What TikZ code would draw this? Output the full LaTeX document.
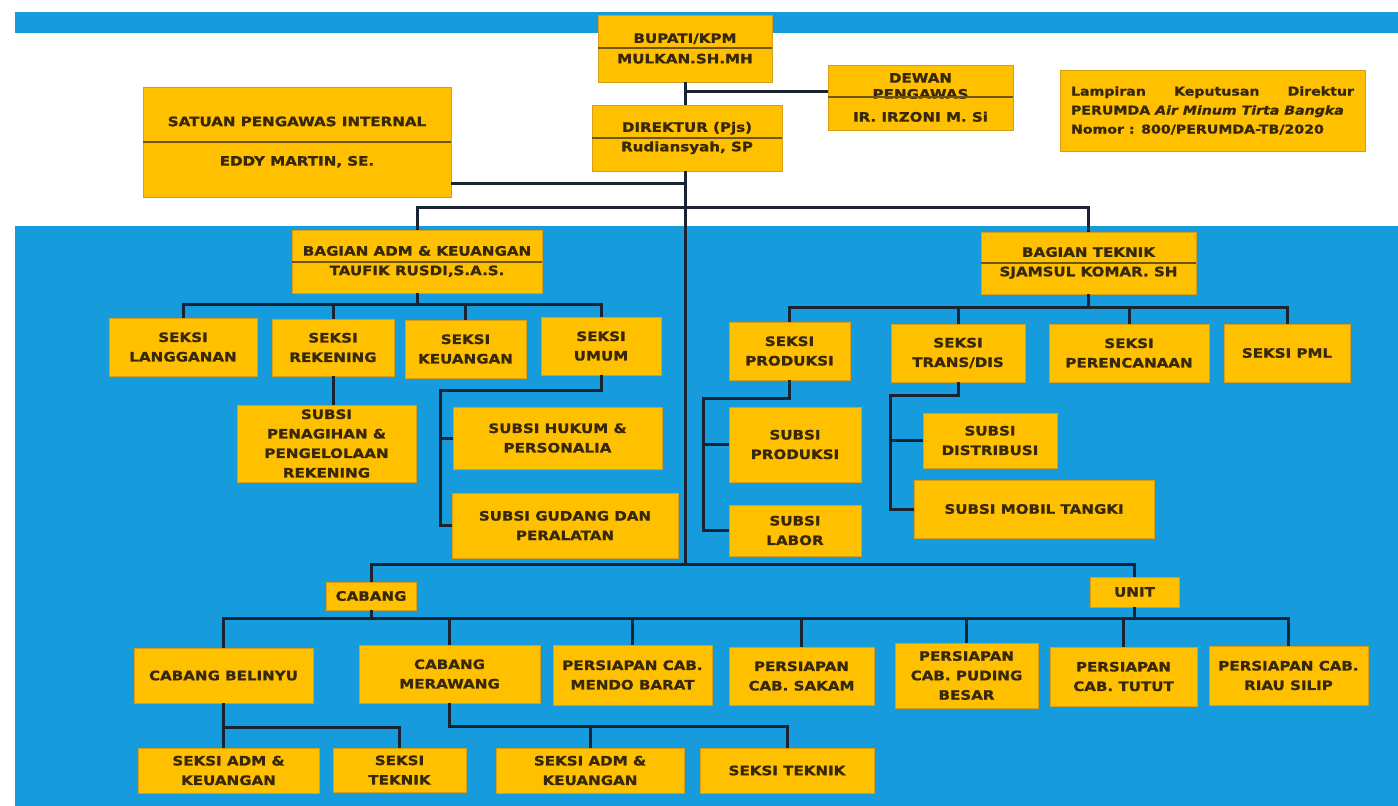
\documentclass[tikz,border=0pt]{standalone}
\usepackage{fontspec}
\newfontfamily\boxfont{DejaVu Sans}[FakeStretch=1.16, FakeBold=1.2]
\definecolor{bgblue}{RGB}{22,155,220}
\definecolor{boxyel}{RGB}{255,192,0}
\definecolor{boxedge}{RGB}{215,160,20}
\definecolor{txtc}{RGB}{55,40,10}
\definecolor{linec}{RGB}{25,35,50}
\definecolor{divc}{RGB}{110,85,20}
\newcommand\bx[6]{\node[box,minimum width={#4pt-#2pt},minimum height={#5pt-#3pt}] (#1) at ({(#2+#4)/2},{(#3+#5)/2}) {#6};}
\begin{document}
\begin{tikzpicture}[x=1pt,y=-1pt,
  box/.style={fill=boxyel, draw=boxedge, line width=0.8pt, inner sep=1pt, align=center, text=txtc,
    font=\boxfont\bfseries\fontsize{13}{19.5}\selectfont},
  wire/.style={draw=linec, line width=3pt},
  divline/.style={draw=divc, line width=1.2pt}]
\useasboundingbox (0,0) rectangle (1398,806);
\fill[white] (0,0) rectangle (1398,806);
\fill[bgblue] (15,12) rectangle (1398,33);
\fill[bgblue] (15,226) rectangle (1398,806);

% top level
\bx{bup}{598}{15}{772}{82}{BUPATI/KPM\\[1pt]MULKAN.SH.MH}
\bx{dew}{828}{65}{1013}{130}{DEWAN\\[-3.5pt]PENGAWAS\\[3.5pt]IR. IRZONI M. Si}
\bx{dir}{592}{105}{782}{171}{DIREKTUR (Pjs)\\Rudiansyah, SP}
\bx{spi}{143}{87}{451}{197}{SATUAN PENGAWAS INTERNAL\\[20pt]EDDY MARTIN, SE.}
\bx{lamp}{1060}{70}{1365}{151}{\parbox{283pt}{\fontsize{12.2}{19}\selectfont Lampiran\hfill Keputusan\hfill Direktur\\PERUMDA \textit{Air Minum Tirta Bangka}\\Nomor : 800/PERUMDA-TB/2020}}

% bagian
\bx{badm}{292}{230}{542}{293}{BAGIAN ADM \& KEUANGAN\\TAUFIK RUSDI,S.A.S.}
\bx{btek}{981}{232}{1196}{294}{BAGIAN TEKNIK\\SJAMSUL KOMAR. SH}

% seksi adm
\bx{lang}{109}{318}{257}{376}{SEKSI\\LANGGANAN}
\bx{rek}{272}{319}{394}{376}{SEKSI\\REKENING}
\bx{keu}{405}{320}{526}{378}{SEKSI\\KEUANGAN}
\bx{umum}{541}{317}{661}{375}{SEKSI\\UMUM}
\bx{pen}{237}{405}{416}{482}{SUBSI\\PENAGIHAN \&\\PENGELOLAAN\\REKENING}
\bx{hukum}{453}{407}{662}{469}{SUBSI HUKUM \&\\PERSONALIA}
\bx{gudang}{452}{493}{678}{558}{SUBSI GUDANG DAN\\PERALATAN}

% seksi teknik
\bx{sprod}{729}{322}{850}{380}{SEKSI\\PRODUKSI}
\bx{strans}{891}{324}{1025}{382}{SEKSI\\TRANS/DIS}
\bx{speren}{1049}{324}{1209}{382}{SEKSI\\PERENCANAAN}
\bx{spml}{1224}{324}{1350}{382}{SEKSI PML}
\bx{subprod}{729}{407}{861}{482}{SUBSI\\PRODUKSI}
\bx{labor}{729}{505}{861}{556}{SUBSI\\LABOR}
\bx{distrib}{923}{413}{1057}{468}{SUBSI\\DISTRIBUSI}
\bx{mobil}{914}{480}{1154}{538}{SUBSI MOBIL TANGKI}

% cabang / unit
\bx{cab}{326}{582}{416}{610}{CABANG}
\bx{unit}{1090}{577}{1179}{607}{UNIT}
\bx{belinyu}{134}{648}{313}{703}{CABANG BELINYU}
\bx{merawang}{359}{645}{540}{703}{CABANG\\MERAWANG}
\bx{mendo}{553}{645}{712}{705}{PERSIAPAN CAB.\\MENDO BARAT}
\bx{sakam}{729}{647}{874}{705}{PERSIAPAN\\CAB. SAKAM}
\bx{puding}{895}{643}{1038}{708}{PERSIAPAN\\CAB. PUDING\\BESAR}
\bx{tutut}{1050}{647}{1197}{706}{PERSIAPAN\\CAB. TUTUT}
\bx{riau}{1209}{646}{1368}{705}{PERSIAPAN CAB.\\RIAU SILIP}
\bx{adm1}{138}{748}{319}{793}{SEKSI ADM \&\\KEUANGAN}
\bx{tek1}{333}{748}{466}{792}{SEKSI\\TEKNIK}
\bx{adm2}{496}{748}{684}{793}{SEKSI ADM \&\\KEUANGAN}
\bx{tek2}{700}{748}{874}{793}{SEKSI TEKNIK}

% dividers
\draw[divline] (bup.west |- 0,48) -- (bup.east |- 0,48);
\draw[divline] (dew.west |- 0,97) -- (dew.east |- 0,97);
\draw[divline] (dir.west |- 0,138) -- (dir.east |- 0,138);
\draw[divline] (spi.west |- 0,142) -- (spi.east |- 0,142);
\draw[divline] (badm.west |- 0,262) -- (badm.east |- 0,262);
\draw[divline] (btek.west |- 0,263) -- (btek.east |- 0,263);

% coordinates for bars
\coordinate (cbar) at (685,564);
\coordinate (topbar) at (685,207);
\coordinate (abar) at (0,304);
\coordinate (tbar) at (0,307);
\coordinate (umj) at (440,390);
\coordinate (prj) at (703,398);
\coordinate (trj) at (890,395);
\coordinate (cbar2) at (0,618);
\coordinate (bbar) at (0,727);
\coordinate (mbar) at (0,726);

% spine
\draw[wire] (bup.south) -- (bup.south |- dir.north);
\draw[wire] (bup.south |- dir.south) -- (bup.south |- cbar);
\draw[wire] ([yshift=6pt]dew.west) -- ([yshift=6pt]dew.west -| bup.south);
\draw[wire] ([yshift=14pt]spi.south east) -- ([yshift=14pt]spi.south east -| bup.south);
\draw[wire] (badm.north) |- (topbar) -| (btek.north);

% adm
\foreach \c in {lang,rek,keu,umum} \draw[wire] (badm.south) -- (badm.south |- abar) -| (\c.north);
\draw[wire] (rek.south) -- (rek.south |- pen.north);
\draw[wire] (umum.south) |- (umj) |- (hukum.west);
\draw[wire] (umj) |- (gudang.west);

% teknik
\foreach \c in {sprod,strans,speren,spml} \draw[wire] (btek.south) -- (btek.south |- tbar) -| (\c.north);
\draw[wire] (sprod.south) |- (prj) |- (subprod.west);
\draw[wire] (prj) |- (labor.west);
\draw[wire] (strans.south) |- (trj) |- (distrib.west);
\draw[wire] (trj) |- (mobil.west);

% cabang / unit
\draw[wire] (cab.north) |- (cbar) -| (unit.north);
\foreach \c in {belinyu,merawang,mendo,sakam,puding,tutut,riau} \draw[wire] (cab.south) -- (cab.south |- cbar2) -| (\c.north);
\draw[wire] (unit.south) -- (unit.south |- cbar2);
\draw[wire] (belinyu.south) -- (belinyu.south |- bbar) -| (tek1.north);
\draw[wire] (belinyu.south) -- (belinyu.south |- adm1.north);
\draw[wire] (merawang.south) -- (merawang.south |- mbar) -| (adm2.north);
\draw[wire] (merawang.south) -- (merawang.south |- mbar) -| (tek2.north);
\end{tikzpicture}
\end{document}
